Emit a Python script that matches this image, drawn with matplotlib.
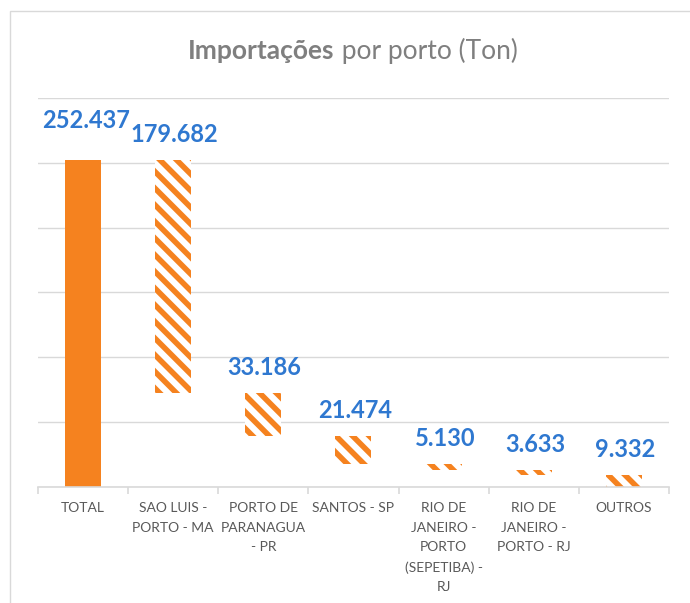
import matplotlib
matplotlib.use("Agg")
import matplotlib.pyplot as plt
from matplotlib.patches import Rectangle

# data (mil toneladas)
categorias = ["TOTAL", "SAO LUIS -\nPORTO - MA", "PORTO DE\nPARANAGUA\n- PR", "SANTOS - SP",
              "RIO DE\nJANEIRO -\nPORTO\n(SEPETIBA) -\nRJ", "RIO DE\nJANEIRO -\nPORTO - RJ", "OUTROS"]
valores = [252.437, 179.682, 33.186, 21.474, 5.130, 3.633, 9.332]
rotulos = ["252.437", "179.682", "33.186", "21.474", "5.130", "3.633", "9.332"]

laranja = "#f5821f"
azul = "#2f78d0"
cinza = "#595959"
grade = "#d9d9d9"

plt.rcParams["font.family"] = ["Lato", "DejaVu Sans"]
plt.rcParams["hatch.linewidth"] = 4

fig = plt.figure(figsize=(6.9, 6.03), dpi=100)
ax = fig.add_axes([0.055, 0.1924, 0.9145, 0.6451])

# waterfall: total cheio, portos flutuando
topo = valores[0]
for i, v in enumerate(valores):
    if i == 0:
        ax.bar(i, v, width=0.4, color=laranja, linewidth=0)
        top = v
    else:
        base = topo - v
        ax.bar(i, v, bottom=base, width=0.4, facecolor="white", edgecolor=laranja,
               hatch="\\\\", linewidth=0)
        top = topo
        topo = base
    off = 20 if i == 0 else 10
    ax.annotate(rotulos[i], (i, top), xytext=(2 if i == 0 else 1, off), textcoords="offset points",
                ha="center", va="bottom", color=azul, fontsize=17, fontweight="bold")

ax.set_xlim(-0.5, len(valores) - 0.5)
ax.set_ylim(0, 300)
ax.set_yticks(range(0, 301, 50))
ax.yaxis.grid(True, color=grade, linewidth=1)
ax.set_axisbelow(True)
ax.tick_params(axis="y", left=False, labelleft=False)
for s in ["top", "right", "left"]:
    ax.spines[s].set_visible(False)
ax.spines["bottom"].set_color(grade)
ax.spines["bottom"].set_linewidth(1.2)

ax.set_xticks(range(len(categorias)))
ax.set_xticklabels(categorias, color=cinza, fontsize=10, linespacing=1.75, va="top")
ax.tick_params(axis="x", which="major", length=0, pad=11)
ax.set_xticks([i - 0.5 for i in range(len(categorias) + 1)], minor=True)
ax.tick_params(axis="x", which="minor", length=5, color=grade, width=1.2)

# borda do gráfico
fig.patches.append(Rectangle((10 / 690, -0.1), 1.2, 1 - 11 / 603 + 0.1, transform=fig.transFigure,
                             fill=False, edgecolor=grade, linewidth=1))

# título com parte em negrito
fig.canvas.draw()
r = fig.canvas.get_renderer()
t1 = fig.text(0, 0.915, "Importações", fontsize=19, fontweight="bold", color="#7f7f7f", va="center")
t2 = fig.text(0, 0.915, " por porto (Ton)", fontsize=19, color="#7f7f7f", va="center")
w1 = t1.get_window_extent(r).width / fig.bbox.width
w2 = t2.get_window_extent(r).width / fig.bbox.width
x0 = 353 / 690 - (w1 + w2) / 2
t1.set_x(x0)
t2.set_x(x0 + w1)

fig.savefig("out.png", dpi=100)
